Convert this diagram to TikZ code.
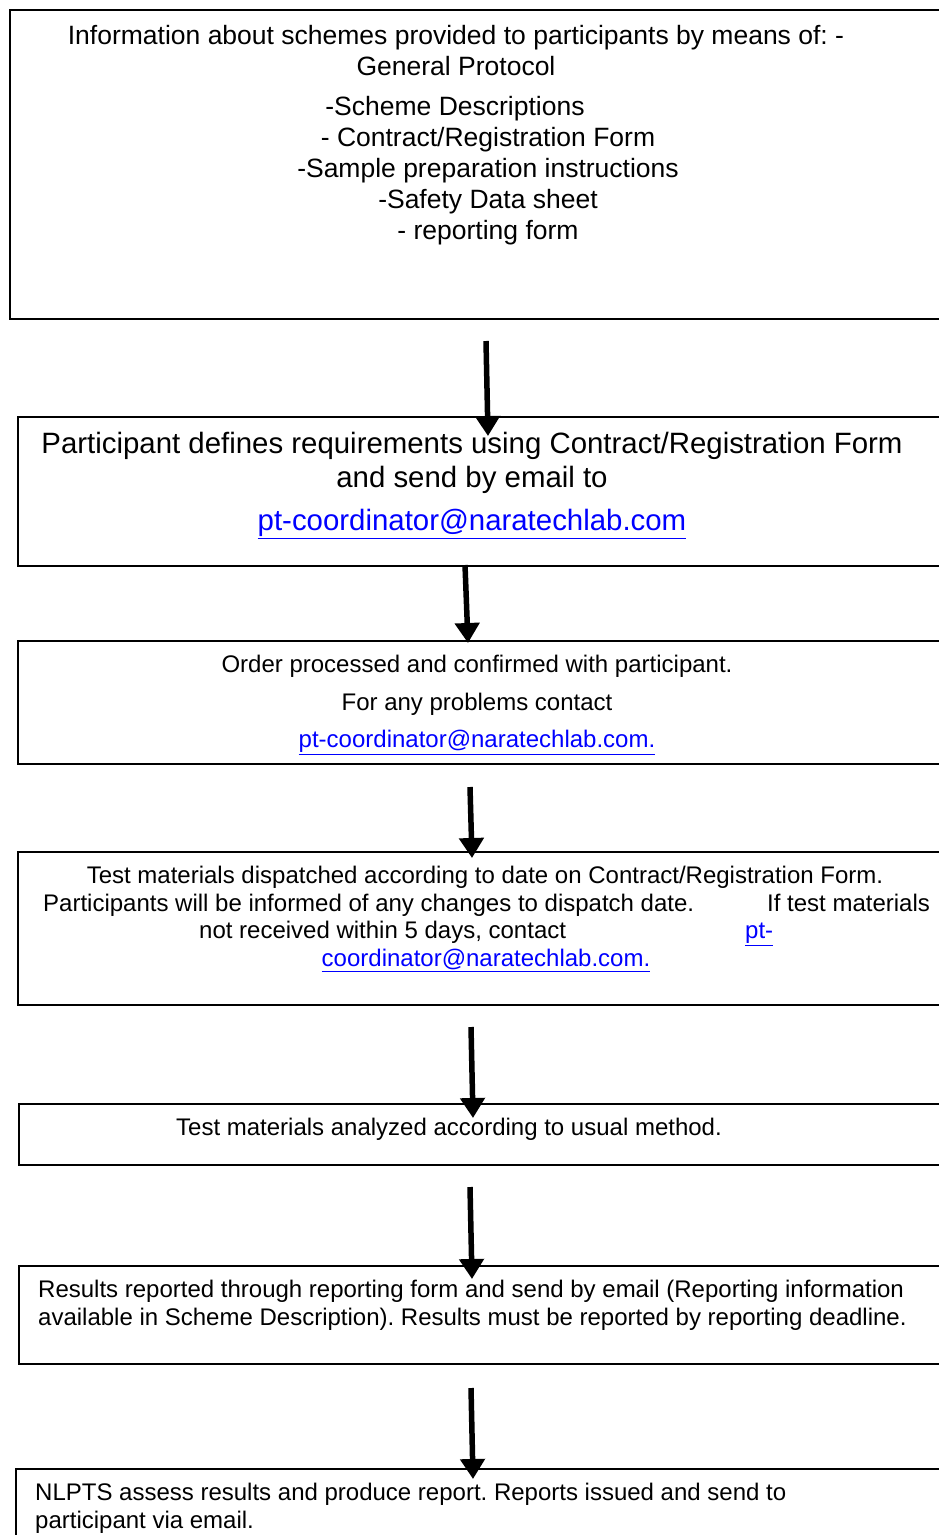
\documentclass[tikz,border=0pt]{standalone}
\usepackage{fontspec}
\setmainfont{Liberation Sans}
\usetikzlibrary{arrows.meta}
\definecolor{linkblue}{RGB}{0,0,255}
\frenchspacing
\tikzset{
  x=1pt, y=-1pt,
  box/.style={draw=black, line width=1.8pt, anchor=north west, inner sep=0pt, minimum width=960pt},
  arr/.style={line width=5.5pt, -{Triangle[width=24pt,length=20pt]}},
  ta/.style={inner sep=0pt, font=\fontsize{26.5pt}{31pt}\selectfont},
  tb/.style={inner sep=0pt, font=\fontsize{29.4pt}{34pt}\selectfont},
  tc/.style={inner sep=0pt, font=\fontsize{24pt}{28pt}\selectfont},
  lnk/.style={text=linkblue},
}
\newcommand{\lk}[1]{\underline{#1}}
\begin{document}
\begin{tikzpicture}
\useasboundingbox (0,0) rectangle (939,1535);
\clip (0,0) rectangle (939,1535);
\fill[white] (0,0) rectangle (939,1535);

% boxes
\node (b1) [box, minimum height=309pt] at (9,9) {};
\node (b2) [box, minimum height=149pt] at (17,416) {};
\node (b3) [box, minimum height=123pt] at (17,640) {};
\node (b4) [box, minimum height=153pt] at (17,851) {};
\node (b5) [box, minimum height=61pt] at (18,1103) {};
\node (b6) [box, minimum height=98pt] at (18,1265) {};
\node (b7) [box, minimum height=100pt] at (15,1468) {};

% box 1 text
\node (t1a) [ta, anchor=base] at (456,44.5) {Information about schemes provided to participants by means of: -};
\node (t1b) [ta, anchor=base] at (456,75.5) {General Protocol};
\node (t1c) [ta, anchor=base] at (455,115.5) {-Scheme Descriptions};
\node (t1d) [ta, anchor=base] at (488,146.5) {- Contract/Registration Form};
\node (t1e) [ta, anchor=base] at (488,177.5) {-Sample preparation instructions};
\node (t1f) [ta, anchor=base] at (488,208.5) {-Safety Data sheet};
\node (t1g) [ta, anchor=base] at (488,239.5) {- reporting form};

% box 2 text
\node (t2a) [tb, anchor=base] at (472,453.6) {Participant defines requirements using Contract/Registration Form};
\node (t2b) [tb, anchor=base] at (472,487.6) {and send by email to};
\node (t2c) [tb, lnk, anchor=base] at (472,530.6) {\lk{pt-coordinator@naratechlab.com}};

% box 3 text
\node (t3a) [tc, anchor=base] at (477,672.6) {Order processed and confirmed with participant.};
\node (t3b) [tc, anchor=base] at (477,710.6) {For any problems contact};
\node (t3c) [tc, lnk, anchor=base] at (477,747.6) {\lk{pt-coordinator@naratechlab.com.}};

% box 4 text
\node (t4a) [tc, anchor=base] at (485,883.6) {Test materials dispatched according to date on Contract/Registration Form.};
\node (t4b) [tc, anchor=base west] at (43,911.6) {Participants will be informed of any changes to dispatch date.};
\node (t4c) [tc, anchor=base west] at (767,911.6) {If test materials};
\node (t4d) [tc, anchor=base west] at (199,938.6) {not received within 5 days, contact};
\node (t4e) [tc, lnk, anchor=base west] at (745,938.6) {\lk{pt-}};
\node (t4f) [tc, lnk, anchor=base] at (486,966.6) {\lk{coordinator@naratechlab.com.}};

% box 5 text
\node (t5a) [tc, anchor=base] at (449,1135.6) {Test materials analyzed according to usual method.};

% box 6 text
\node (t6a) [tc, anchor=base west] at (38,1297.6) {Results reported through reporting form and send by email (Reporting information};
\node (t6b) [tc, anchor=base west] at (38,1325.6) {available in Scheme Description). Results must be reported by reporting deadline.};

% box 7 text
\node (t7a) [tc, anchor=base west] at (35,1500.6) {NLPTS assess results and produce report. Reports issued and send to};
\node (t7b) [tc, anchor=base west] at (35,1528.6) {participant via email.};

% arrows
\coordinate (a1s) at (486,341);  \coordinate (a1e) at (488,436);
\coordinate (a2s) at (465,565);  \coordinate (a2e) at (468,643);
\coordinate (a3s) at (470,787);  \coordinate (a3e) at (472,858);
\coordinate (a4s) at (471,1027); \coordinate (a4e) at (473,1118);
\coordinate (a5s) at (470,1187); \coordinate (a5e) at (472,1279);
\coordinate (a6s) at (471,1388); \coordinate (a6e) at (473,1479);
\draw[arr] (a1s) -- (a1e);
\draw[arr] (a2s) -- (a2e);
\draw[arr] (a3s) -- (a3e);
\draw[arr] (a4s) -- (a4e);
\draw[arr] (a5s) -- (a5e);
\draw[arr] (a6s) -- (a6e);
\end{tikzpicture}
\end{document}
